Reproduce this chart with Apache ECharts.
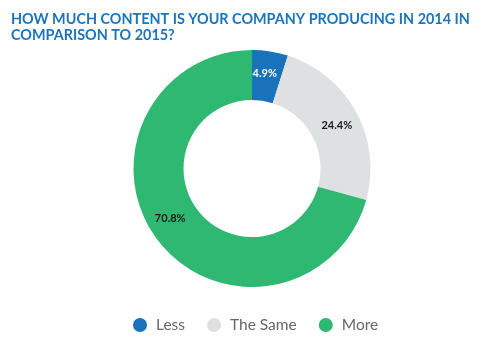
<!DOCTYPE html>
<html><head><meta charset="utf-8">
<script src="https://cdn.jsdelivr.net/npm/echarts@6/dist/echarts.min.js"></script>
<style>html,body{margin:0;padding:0;background:#fff}#c{width:502px;height:362px}</style>
</head><body><div id="c"></div>
<script>
const categories = ['Less', 'The Same', 'More'];
const values = [4.9, 24.4, 70.8];
const colors = ['#1a72bb', '#dfe0e2', '#2eb872'];
const labelColors = ['#ffffff', '#1a1a1a', '#1a1a1a'];
const labelOffsets = [[-2, 0], [0, 3], [-5, -9]];
const titleText = 'HOW MUCH CONTENT IS YOUR COMPANY PRODUCING IN 2014 IN\nCOMPARISON TO 2015?';

const chart = echarts.init(document.getElementById('c'));
chart.setOption({
  animation: false,
  title: {
    text: titleText,
    left: 6, top: 6,
    textStyle: {color: '#1a75bb', fontFamily: 'Lato', fontWeight: 'bold', fontSize: 14.4, lineHeight: 16}
  },
  legend: {
    top: 317, left: 133, padding: 0,
    icon: 'circle', itemWidth: 14, itemHeight: 14, itemGap: 22,
    textStyle: {color: '#666', fontFamily: 'Lato', fontSize: 15.5, padding: [0, 0, 0, 4]},
    data: categories
  },
  series: [{
    type: 'pie',
    center: [252, 168.5],
    radius: [68.5, 118.5],
    startAngle: 90,
    clockwise: true,
    label: {
      position: 'inside',
      formatter: p => p.value.toFixed(1) + '%',
      fontFamily: 'Lato', fontWeight: 'bold', fontSize: 11
    },
    labelLine: {show: false},
    data: categories.map((n, i) => ({
      name: n, value: values[i],
      itemStyle: {color: colors[i]},
      label: {color: labelColors[i], offset: labelOffsets[i]}
    }))
  }]
});
</script></body></html>
